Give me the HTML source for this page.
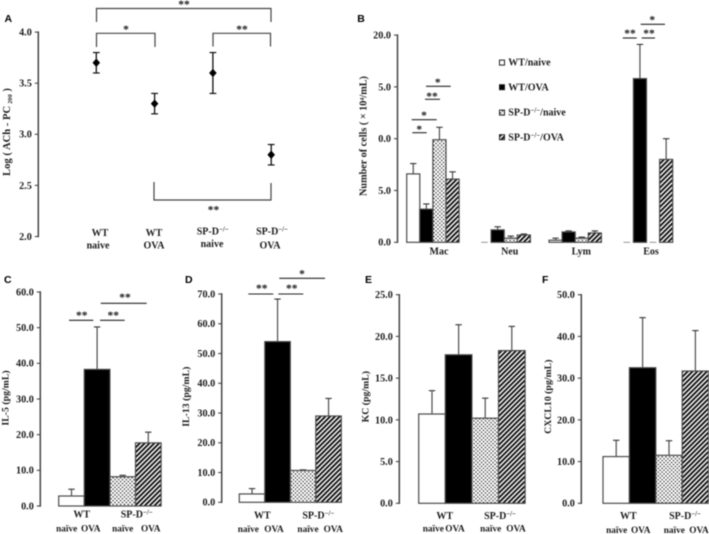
<!DOCTYPE html>
<html lang="en">
<head>
<meta charset="utf-8">
<title>Airway and BAL measurements</title>
<style>
html,body{margin:0;padding:0;background:#fff;width:709px;height:534px;overflow:hidden}
svg{display:block;filter:blur(0.45px)}
text{font-family:"Liberation Serif",serif;font-weight:bold;fill:#1c1c1c}
</style>
</head>
<body>
<svg id="figure" xmlns="http://www.w3.org/2000/svg" width="709" height="534" viewBox="0 0 709 534">
<defs>
<pattern id="dots" width="3.8" height="3.8" patternUnits="userSpaceOnUse">
<rect width="3.8" height="3.8" fill="#fff"/><circle cx="0.95" cy="0.95" r="0.68" fill="#000"/><circle cx="2.85" cy="2.85" r="0.68" fill="#000"/>
</pattern>
<pattern id="hatch" width="3.4" height="3.4" patternUnits="userSpaceOnUse" patternTransform="rotate(45)">
<rect width="3.4" height="3.4" fill="#fff"/><rect width="1.9" height="3.4" fill="#111"/>
</pattern>
</defs>
</svg>
<script>
// Panel A
const aGroups = ['WT naive', 'WT OVA', 'SP-D naive', 'SP-D OVA'];
const aMeans = [3.7, 3.3, 3.6, 2.8];
const aErrors = [0.1, 0.1, 0.2, 0.1];
const aTicks = [2.0, 2.5, 3.0, 3.5, 4.0];
const aTickLabels = ['2.0', '2.5', '3.0', '3.5', '4.0'];
// Panel B
const bCategories = ['Mac', 'Neu', 'Lym', 'Eos'];
const bWtNaive = [6.6, 0, 0.2, 0];
const bWtOva = [3.2, 1.2, 1.0, 15.8];
const bSpdNaive = [9.9, 0.4, 0.4, 0];
const bSpdOva = [6.1, 0.7, 0.9, 8.0];
const bWtNaiveTop = [7.6, 0, 0.4, 0];
const bWtOvaTop = [3.7, 1.5, 1.1, 19.1];
const bSpdNaiveTop = [11.1, 0.6, 0.5, 0];
const bSpdOvaTop = [6.8, 0.8, 1.1, 10.0];
const bTicks = [0, 5, 10, 15, 20];
const bTickLabels = ['0.0', '5.0', '0.0', '5.0', '20.0'];
// Panels C to F
const cValues = [2.8, 38.3, 8.2, 17.7];
const cTops = [4.7, 50.2, 8.6, 20.7];
const cTicks = [0, 10, 20, 30, 40, 50, 60];
const dValues = [2.8, 54.0, 10.7, 29.0];
const dTops = [4.6, 68.3, 10.9, 34.9];
const dTicks = [0, 10, 20, 30, 40, 50, 60, 70];
const eValues = [10.7, 17.8, 10.2, 18.3];
const eTops = [13.5, 21.4, 12.6, 21.2];
const eTicks = [0, 5, 10, 15, 20, 25];
const fValues = [11.2, 32.5, 11.5, 31.7];
const fTops = [15.1, 44.5, 15.0, 41.4];
const fTicks = [0, 10, 20, 30, 40, 50];

const svg = document.getElementById('figure');
const NS = 'http://www.w3.org/2000/svg';
const fills = ['#fff', '#000', 'url(#dots)', 'url(#hatch)'];
const groupNames = ['wt-naive', 'wt-ova', 'spd-naive', 'spd-ova'];
const AXIS = '#454545';

function mk(parent, tag, attrs, name) {
  const el = document.createElementNS(NS, tag);
  for (const k in attrs) el.setAttribute(k, attrs[k]);
  
  
  parent.appendChild(el);
  return el;
}
function line(p, x1, y1, x2, y2, stroke, w, name) {
  return mk(p, 'line', {x1: x1, y1: y1, x2: x2, y2: y2, stroke: stroke, 'stroke-width': w}, name);
}
function txt(p, x, y, str, size, anchor, name) {
  const t = mk(p, 'text', {x: x, y: y, 'font-size': size, 'text-anchor': anchor || 'middle'}, name);
  t.textContent = str;
  return t;
}
function spd(p, x, y, size, anchor, suffix, name) {
  const t = mk(p, 'text', {x: x, y: y, 'font-size': size, 'text-anchor': anchor || 'middle'}, name);
  t.appendChild(document.createTextNode('SP-D'));
  const s = document.createElementNS(NS, 'tspan');
  s.setAttribute('dy', '-3');
  s.setAttribute('font-size', size * 0.68);
  s.textContent = '\u2212/\u2212';
  t.appendChild(s);
  if (suffix) {
    const r = document.createElementNS(NS, 'tspan');
    r.setAttribute('dy', '3');
    r.textContent = suffix;
    t.appendChild(r);
  }
  return t;
}
function rotated(p, x, y, str, size, name) {
  const t = txt(p, 0, 0, str, size, 'middle', name);
  t.setAttribute('transform', 'translate(' + x + ',' + y + ') rotate(-90)');
  return t;
}
function panelLetter(x, y, s) {
  const t = txt(svg, x, y, s, 10.5, 'start', 'panel-label-' + s.toLowerCase());
  t.style.fontFamily = '"Liberation Sans",sans-serif';
  t.style.fill = '#000';
}
function axis(p, ax, yOf, ticks, labels) {
  const ys = ticks.map(yOf);
  line(p, ax, Math.min.apply(null, ys) - 0.7, ax, Math.max.apply(null, ys) + 0.7, AXIS, 1.5, 'y-axis-line');
  ticks.forEach(function (v, i) {
    line(p, ax - 3.5, yOf(v), ax, yOf(v), AXIS, 1.1, 'y-tick');
    txt(p, ax - 6.5, yOf(v) + 3.4, labels[i], 10.2, 'end', 'y-tick-label');
  });
}
function sig(p, x1, x2, y, starX, starY, stars) {
  line(p, x1, y, x2, y, '#222', 1.1, 'significance-line');
  txt(p, starX, starY, stars, 11.5, 'middle', 'significance-stars');
}
function bar(p, x, w, value, top, yOf, i, name) {
  if (top > value) {
    const g = mk(p, 'g', {}, name + '-error-bar');
    line(g, x + w / 2, yOf(value), x + w / 2, yOf(top), '#4d4d4d', 1.2, 'error-stem');
    line(g, x + w / 2 - 3.2, yOf(top), x + w / 2 + 3.2, yOf(top), '#333', 1.1, 'error-cap');
  }
  mk(p, 'rect', {x: x, y: yOf(value), width: w, height: yOf(0) - yOf(value), fill: fills[i], stroke: '#4a4a4a', 'stroke-width': 1.2}, name);
}
function cytokinePanel(id, o, values, tops, ticks) {
  const g = mk(svg, 'g', {}, 'panel-' + id);
  const yOf = function (v) { return o.y0 - (o.y0 - o.y1) * v / ticks[ticks.length - 1]; };
  values.forEach(function (v, i) {
    bar(g, o.bx + i * o.bw, o.bw, v, tops[i], yOf, i, 'bar-' + groupNames[i]);
  });
  axis(g, o.ax, yOf, ticks, ticks.map(function (t) { return t.toFixed(1); }));
  rotated(g, o.tx, o.ty, o.title, 9.8, 'y-axis-title');
  txt(g, o.wt, o.ly1, 'WT', 10, 'middle', 'x-group-wt');
  spd(g, o.sp, o.ly1, 10, 'middle', '', 'x-group-spd');
  txt(g, o.n1, o.ly2, 'na\u00efve', 9.3, 'middle', 'x-label-wt-naive');
  txt(g, o.o1, o.ly2, 'OVA', 9.3, 'middle', 'x-label-wt-ova');
  txt(g, o.n2, o.ly2, 'na\u00efve', 9.3, 'middle', 'x-label-spd-naive');
  txt(g, o.o2, o.ly2, 'OVA', 9.3, 'middle', 'x-label-spd-ova');
  return g;
}

// ---------- Panel A ----------
panelLetter(4.5, 22, 'A');
const gA = mk(svg, 'g', {}, 'panel-a');
const aY = function (v) { return 236.5 - (v - 2) * 102.2; };
const aX = function (i) { return 96.3 + i * 58.3; };
axis(gA, 38.3, aY, aTicks, aTickLabels);
aMeans.forEach(function (m, i) {
  const g = mk(gA, 'g', {}, 'point-' + groupNames[i]);
  const x = aX(i);
  const c = aY(m);
  line(g, x, aY(m + aErrors[i]), x, aY(m - aErrors[i]), '#111', 1.3, 'error-stem');
  line(g, x - 3.4, aY(m + aErrors[i]), x + 3.4, aY(m + aErrors[i]), '#111', 1.2, 'error-cap-upper');
  line(g, x - 3.4, aY(m - aErrors[i]), x + 3.4, aY(m - aErrors[i]), '#111', 1.2, 'error-cap-lower');
  mk(g, 'polygon', {points: [x, c - 4.2, x + 3.8, c, x, c + 4.2, x - 3.8, c].join(' '), fill: '#000'}, 'diamond-marker');
});
function bracket(pts, name) {
  mk(gA, 'polyline', {points: pts, fill: 'none', stroke: '#444', 'stroke-width': 1.2}, name);
}
bracket('96.5,22 96.5,8.5 271,8.5 271,22', 'bracket-wt-naive-spd-ova');
bracket('96.5,47 96.5,33.3 155,33.3 155,47', 'bracket-wt-naive-wt-ova');
bracket('213,46.5 213,33.3 270.5,33.3 270.5,46.5', 'bracket-spd-naive-spd-ova');
bracket('154,182 154,200 271,200 271,183', 'bracket-wt-ova-spd-ova');
txt(gA, 184, 8, '**', 11.5, 'middle', 'significance-stars');
txt(gA, 126, 33, '*', 11.5, 'middle', 'significance-stars');
txt(gA, 242, 33, '**', 11.5, 'middle', 'significance-stars');
txt(gA, 213.5, 213.5, '**', 11.5, 'middle', 'significance-stars');
rotated(gA, 10, 132, 'Log ( ACh  -  PC\u2009\u2082\u2080\u2080 )', 10.6, 'y-axis-title').setAttribute('xml:space', 'preserve');
txt(gA, 100, 236, 'WT', 10, 'middle', 'x-label-wt');
txt(gA, 98, 248.5, 'naive', 10, 'middle', 'x-label-naive');
txt(gA, 154, 236, 'WT', 10, 'middle', 'x-label-wt');
txt(gA, 154, 248.5, 'OVA', 10, 'middle', 'x-label-ova');
spd(gA, 212.7, 234.5, 10, 'middle', '', 'x-label-spd');
txt(gA, 212, 247, 'naive', 10, 'middle', 'x-label-naive');
spd(gA, 272, 234.5, 10, 'middle', '', 'x-label-spd');
txt(gA, 270, 248.5, 'OVA', 10, 'middle', 'x-label-ova');

// ---------- Panel B ----------
panelLetter(357.3, 22, 'B');
const gB = mk(svg, 'g', {}, 'panel-b');
const bY = function (v) { return 242.3 - v * 10.36; };
const bStarts = [406.7, 478, 549, 620.3];
const bStep = 13.1;
const bSeries = [bWtNaive, bWtOva, bSpdNaive, bSpdOva];
const bTopSeries = [bWtNaiveTop, bWtOvaTop, bSpdNaiveTop, bSpdOvaTop];
bCategories.forEach(function (cat, c) {
  bSeries.forEach(function (s, i) {
    const x = bStarts[c] + i * bStep;
    if (s[c] === 0) {
      line(gB, x + 3.2, bY(0), x + 9.8, bY(0), '#888', 0.9, 'zero-dash-' + cat.toLowerCase());
    } else {
      bar(gB, x, bStep, s[c], bTopSeries[i][c], bY, i, 'bar-' + cat.toLowerCase() + '-' + groupNames[i]);
    }
  });
});
axis(gB, 397.5, bY, bTicks, bTickLabels);
rotated(gB, 366.7, 136, 'Number of cells ( \u00d7 10\u2074/mL)', 10.2, 'y-axis-title');
txt(gB, 439, 254.5, bCategories[0], 10, 'middle', 'x-label-mac');
txt(gB, 509.7, 254.5, bCategories[1], 10, 'middle', 'x-label-neu');
txt(gB, 581.3, 254.5, bCategories[2], 10, 'middle', 'x-label-lym');
txt(gB, 651, 254.5, bCategories[3], 10, 'middle', 'x-label-eos');
sig(gB, 412.3, 426.7, 132.7, 419.3, 133, '*');
sig(gB, 411.7, 436.7, 119.7, 424, 119, '*');
sig(gB, 425, 440, 99.3, 432, 100, '**');
sig(gB, 426, 450.7, 86.3, 437.7, 86, '*');
sig(gB, 622.7, 636.7, 38, 630, 37, '**');
sig(gB, 641.7, 655, 38, 649, 37, '**');
sig(gB, 640.7, 665, 24.3, 652.3, 23.5, '*');
const legendY = [62.7, 87.3, 112.7, 137.3];
const legendText = ['WT/naive', 'WT/OVA', '/naive', '/OVA'];
legendY.forEach(function (y, i) {
  const g = mk(gB, 'g', {}, 'legend-entry-' + groupNames[i]);
  mk(g, 'rect', {x: 499.5, y: y - 2.6, width: 5, height: 5, fill: fills[i], stroke: '#222', 'stroke-width': 1}, 'legend-swatch');
  if (i < 2) {
    txt(g, 508.3, y + 3, legendText[i], 10, 'start', 'legend-label');
  } else {
    spd(g, 508.3, y + 3, 10, 'start', legendText[i], 'legend-label');
  }
});

// ---------- Panels C to F ----------
panelLetter(4, 283, 'C');
panelLetter(185, 283, 'D');
panelLetter(365, 283, 'E');
panelLetter(542, 283, 'F');
const gC = cytokinePanel('c', {ax: 40.3, y0: 506, y1: 292, bx: 58.7, bw: 25.6, tx: 8.5, ty: 398, title: 'IL-5 (pg/mL)', wt: 81.7, sp: 136.7, ly1: 517.5, ly2: 531.7, n1: 66.7, o1: 90.7, n2: 122.7, o2: 150.7}, cValues, cTops, cTicks);
const gD = cytokinePanel('d', {ax: 221.7, y0: 502.3, y1: 294, bx: 239.3, bw: 25.5, tx: 189, ty: 396.7, title: 'IL-13 (pg/mL)', wt: 262.3, sp: 318.3, ly1: 518.5, ly2: 532, n1: 248.3, o1: 274, n2: 308, o2: 333.3}, dValues, dTops, dTicks);
cytokinePanel('e', {ax: 399.3, y0: 503.3, y1: 294.7, bx: 418.7, bw: 26.6, tx: 368.7, ty: 396.7, title: 'KC (pg/mL)', wt: 444.7, sp: 500, ly1: 518.8, ly2: 531.7, n1: 433.3, o1: 455, n2: 490.7, o2: 516}, eValues, eTops, eTicks);
cytokinePanel('f', {ax: 581.3, y0: 503.3, y1: 294.7, bx: 603, bw: 26.4, tx: 551, ty: 396.7, title: 'CXCL10 (pg/mL)', wt: 628.3, sp: 685, ly1: 518.8, ly2: 533.2, n1: 616.7, o1: 640.7, n2: 674.3, o2: 699}, fValues, fTops, fTicks);
sig(gC, 69, 93.3, 320.3, 81.7, 319, '**');
sig(gC, 100, 124.7, 320.3, 113.3, 319, '**');
sig(gC, 100.7, 146.7, 303.3, 125, 301, '**');
sig(gD, 248.3, 273.3, 294, 261.7, 292, '**');
sig(gD, 278.3, 303.3, 294, 291.7, 292, '**');
sig(gD, 279.3, 325, 278.3, 302, 277.5, '*');
</script>
</body>
</html>
